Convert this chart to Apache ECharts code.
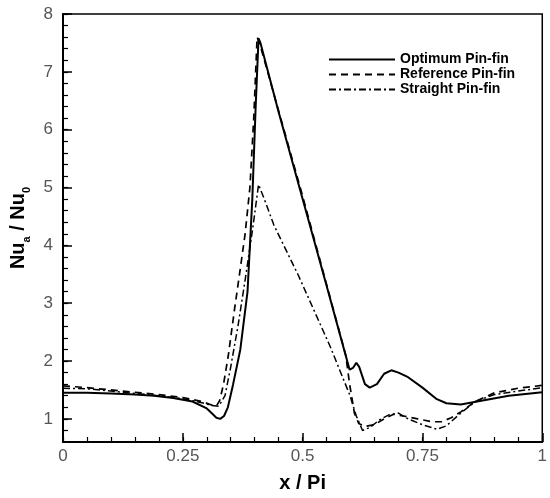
<!DOCTYPE html>
<html>
<head>
<meta charset="utf-8">
<script src="https://cdn.jsdelivr.net/npm/echarts@6/dist/echarts.min.js"></script>
<style>
  html, body { margin: 0; padding: 0; background: #fff; }
  #main { width: 550px; height: 498px; }
</style>
</head>
<body>
<div id="main"></div>
<script>
// x / Pi positions and Nu_a / Nu_0 values
const optimumX = [0, 0.05, 0.10, 0.15, 0.19, 0.23, 0.27, 0.30, 0.31, 0.32, 0.328, 0.336, 0.344, 0.355, 0.37, 0.385, 0.395, 0.402, 0.408, 0.412, 0.45, 0.50, 0.55, 0.598, 0.605, 0.612, 0.618, 0.63, 0.64, 0.655, 0.67, 0.685, 0.70, 0.72, 0.75, 0.78, 0.80, 0.83, 0.87, 0.93, 1.0];
const optimumY = [1.45, 1.45, 1.44, 1.42, 1.40, 1.36, 1.30, 1.18, 1.10, 1.02, 1.00, 1.05, 1.2, 1.6, 2.2, 3.2, 4.8, 6.4, 7.58, 7.5, 6.3, 4.8, 3.3, 1.85, 1.88, 1.97, 1.9, 1.6, 1.54, 1.6, 1.78, 1.84, 1.80, 1.72, 1.54, 1.34, 1.27, 1.25, 1.31, 1.40, 1.46];

const referenceX = [0, 0.05, 0.10, 0.15, 0.20, 0.25, 0.29, 0.31, 0.32, 0.327, 0.335, 0.345, 0.358, 0.37, 0.38, 0.39, 0.398, 0.405, 0.41, 0.50, 0.59, 0.598, 0.608, 0.617, 0.63, 0.65, 0.67, 0.69, 0.71, 0.74, 0.77, 0.79, 0.81, 0.83, 0.86, 0.90, 0.95, 1.0];
const referenceY = [1.57, 1.54, 1.50, 1.46, 1.42, 1.37, 1.30, 1.24, 1.22, 1.32, 1.6, 2.1, 2.9, 3.6, 4.2, 5.0, 6.2, 7.6, 7.5, 4.85, 2.1, 1.6, 1.1, 0.92, 0.87, 0.9, 1.0, 1.08, 1.05, 1.0, 0.95, 0.95, 1.02, 1.12, 1.3, 1.45, 1.53, 1.58];

const straightX = [0, 0.05, 0.10, 0.15, 0.20, 0.25, 0.29, 0.31, 0.325, 0.338, 0.35, 0.365, 0.38, 0.396, 0.408, 0.42, 0.44, 0.49, 0.557, 0.598, 0.612, 0.625, 0.64, 0.66, 0.68, 0.70, 0.72, 0.75, 0.78, 0.80, 0.83, 0.86, 0.90, 0.95, 1.0];
const straightY = [1.53, 1.52, 1.48, 1.44, 1.40, 1.35, 1.28, 1.23, 1.22, 1.4, 1.9, 2.6, 3.4, 4.3, 5.05, 4.8, 4.35, 3.5, 2.26, 1.42, 1.05, 0.8, 0.85, 0.98, 1.07, 1.1, 1.0, 0.9, 0.82, 0.88, 1.1, 1.3, 1.42, 1.48, 1.54];

const seriesNames = ['Optimum Pin-fin', 'Reference Pin-fin', 'Straight Pin-fin'];
const xMajorTicks = [0, 0.25, 0.5, 0.75, 1];
const yMajorTicks = [1, 2, 3, 4, 5, 6, 7, 8];

const yMinorTicks = [];
for (let i = 4; i <= 40; i++) yMinorTicks.push(+(i * 0.2).toFixed(1));

function pairs(xs, ys) {
  return xs.map((x, i) => [x, ys[i]]);
}

const chart = echarts.init(document.getElementById('main'));

const labelStyle = { color: '#555', fontSize: 17, fontFamily: 'Liberation Sans, Arial, sans-serif' };

const option = {
  animation: false,
  backgroundColor: '#fff',
  grid: { left: 63, right: 2, top: 14, bottom: 42, show: true, borderColor: '#000', borderWidth: 1.5 },
  legend: {
    orient: 'vertical',
    left: 323,
    top: 47,
    itemWidth: 66,
    itemHeight: 12,
    itemGap: 0,
    data: seriesNames,
    itemStyle: { opacity: 0 },
    textStyle: { fontSize: 14, lineHeight: 15, fontWeight: 'bold', color: '#000', fontFamily: 'Liberation Sans, Arial, sans-serif' }
  },
  xAxis: [{
    type: 'value', min: 0, max: 1, interval: 0.25,
    name: 'x / Pi', nameLocation: 'middle', nameGap: 31,
    nameTextStyle: { fontSize: 20, fontWeight: 'bold', color: '#000', fontFamily: 'Liberation Sans, Arial, sans-serif' },
    axisLine: { lineStyle: { color: '#000', width: 2 } },
    axisTick: { inside: true, length: 9, lineStyle: { color: '#000', width: 1.5 }, customValues: xMajorTicks },
    axisLabel: Object.assign({ margin: 6, customValues: xMajorTicks, formatter: v => String(v) }, labelStyle),
    splitLine: { show: false }
  }, {
    type: 'value', min: 0, max: 1, interval: 0.05, position: 'bottom',
    axisLine: { show: false },
    axisTick: { inside: true, length: 5, lineStyle: { color: '#000', width: 1.2 } },
    axisLabel: { show: false },
    splitLine: { show: false }
  }],
  yAxis: [{
    type: 'value', min: 0.6, max: 8,
    name: '{n|Nu}{s|a}{n| / Nu}{s|0}', nameLocation: 'middle', nameGap: 30,
    nameTextStyle: {
      rich: {
        n: { fontSize: 20, fontWeight: 'bold', color: '#000', fontFamily: 'Liberation Sans, Arial, sans-serif', lineHeight: 24, verticalAlign: 'bottom' },
        s: { fontSize: 11, fontWeight: 'bold', color: '#000', fontFamily: 'Liberation Sans, Arial, sans-serif', lineHeight: 24, verticalAlign: 'bottom', padding: [0, 0, -4, 0] }
      }
    },
    axisLine: { show: true, lineStyle: { color: '#000', width: 2 } },
    axisTick: { show: true, inside: true, length: 9, lineStyle: { color: '#000', width: 1.5 }, customValues: yMajorTicks },
    axisLabel: Object.assign({ margin: 10, customValues: yMajorTicks }, labelStyle),
    splitLine: { show: false }
  }, {
    type: 'value', min: 0.6, max: 8, position: 'left',
    axisLine: { show: false },
    axisTick: { show: true, inside: true, length: 5, lineStyle: { color: '#000', width: 1.2 }, customValues: yMinorTicks },
    axisLabel: { show: false, customValues: yMinorTicks },
    splitLine: { show: false }
  }],
  series: [{
    name: seriesNames[0], type: 'line', symbol: 'none', smooth: false,
    data: pairs(optimumX, optimumY),
    lineStyle: { color: '#000', width: 2, type: 'solid' },
    itemStyle: { color: '#000' }
  }, {
    name: seriesNames[1], type: 'line', symbol: 'none',
    data: pairs(referenceX, referenceY),
    lineStyle: { color: '#000', width: 1.7, type: [7, 5] },
    itemStyle: { color: '#000' }
  }, {
    name: seriesNames[2], type: 'line', symbol: 'none',
    data: pairs(straightX, straightY),
    lineStyle: { color: '#000', width: 1.5, type: [7, 3, 2, 3] },
    itemStyle: { color: '#000' }
  }]
};

chart.setOption(option);
</script>
</body>
</html>
